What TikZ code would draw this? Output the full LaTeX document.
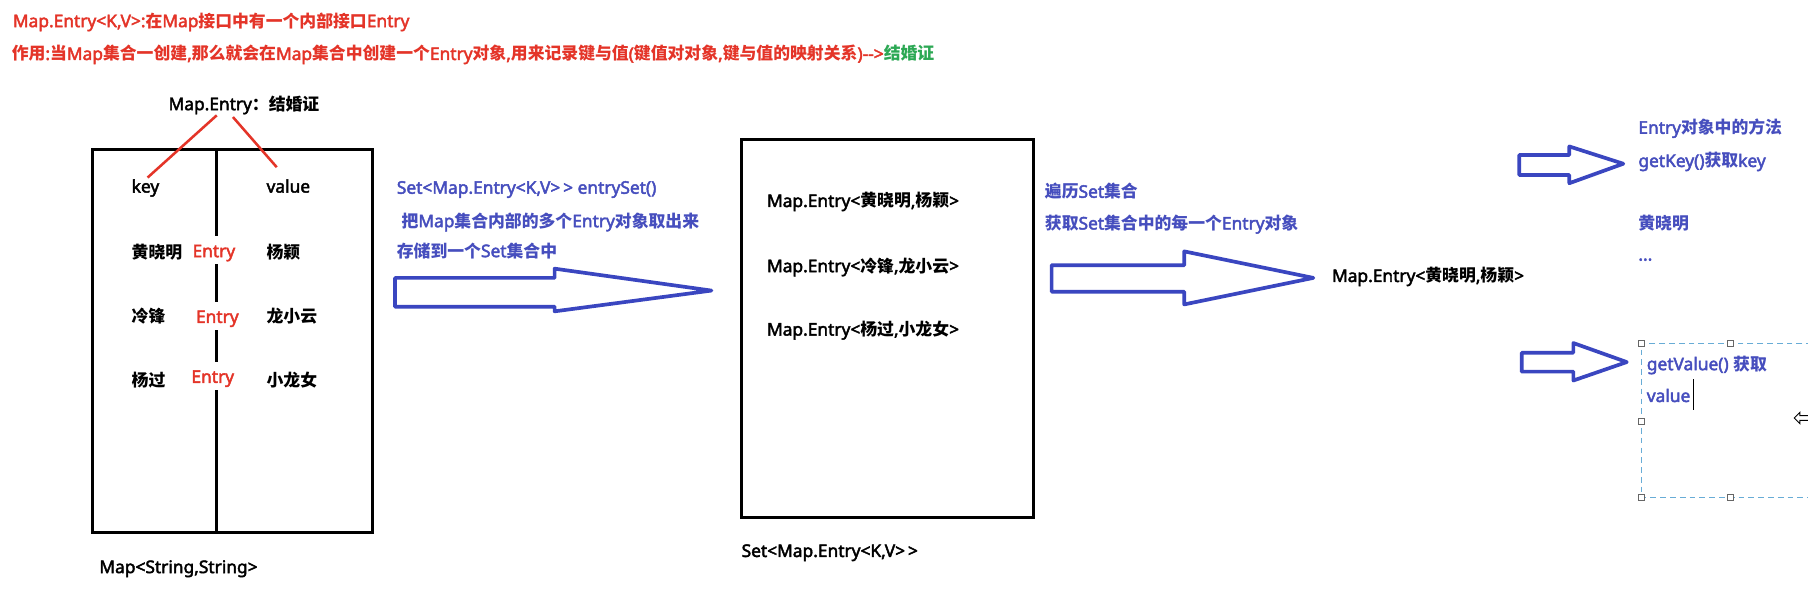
\documentclass[tikz,border=0pt]{standalone}
\usepackage{fontspec}
\setmainfont{Noto Sans}[BoldFont={Noto Sans}, BoldFeatures={FakeBold=2.5}]
\newfontfamily\latinfam{Noto Sans}[BoldFont={Noto Sans}, BoldFeatures={FakeBold=2.5}, Scale=1.03]
\newfontfamily\cjkfam{Noto Sans CJK SC}
\newXeTeXintercharclass\cjkcls
\newcount\cjkcnt
\cjkcnt="3000
\loop\XeTeXcharclass\cjkcnt=\cjkcls\ifnum\cjkcnt<"9FFF\advance\cjkcnt by 1\repeat
\cjkcnt="FF00
\loop\XeTeXcharclass\cjkcnt=\cjkcls\ifnum\cjkcnt<"FFEF\advance\cjkcnt by 1\repeat
\XeTeXinterchartoks 0 \cjkcls = {\cjkfam}
\XeTeXinterchartoks 4095 \cjkcls = {\cjkfam}
\XeTeXinterchartoks \cjkcls 0 = {\latinfam}
\XeTeXinterchartoks 4095 0 = {\latinfam}
\XeTeXinterchartokenstate=1
\definecolor{tred}{RGB}{228,52,40}
\definecolor{tblue}{RGB}{70,78,190}
\definecolor{ablue}{RGB}{58,70,192}
\definecolor{grn}{RGB}{44,168,84}
\definecolor{dashc}{RGB}{104,172,214}
\tikzset{
  txt/.style={inner sep=0pt, anchor=west, text height=12pt, text depth=0pt,
    font=\fontsize{14.6}{18}\selectfont\bfseries},
  boxline/.style={draw=black, line width=2.6pt},
  entrylbl/.style={txt, anchor=center, fill=white, text=tred, inner xsep=1.5pt, inner ysep=6pt},
  bigarrow/.style={draw=ablue, line width=3.2pt, line join=round, fill=white},
  handle/.style={draw=gray!80!black, fill=white, line width=0.8pt, minimum size=5pt, inner sep=0pt},
  redline/.style={draw=tred, line width=2.2pt},
}
\begin{document}
\begin{tikzpicture}[x=1pt,y=-1pt]
\useasboundingbox[fill=white] (0,0) rectangle (1568,512);

% titles
\node[txt, text=tred] (t1) at (11,17.5) {Map.Entry<K,V>:在Map接口中有一个内部接口Entry};
\node[txt, text=tred] (t2) at (10,46) {作用:当Map集合一创建,那么就会在Map集合中创建一个Entry对象,用来记录键与值(键值对对象,键与值的映射关系)-{}-{}>\textcolor{grn}{结婚证}};

% left map box
\node[boxline, minimum width=242.4pt, minimum height=332pt, inner sep=0pt] (mapbox) at (201.8,296) {};
\draw[boxline] (188,130) -- (188,462);
\node[txt] (me) at (146,89.5) {Map.Entry：结婚证};
\node[txt] (key) at (114,161) {key};
\node[txt] (val) at (231,161) {value};
\node[txt] (k1) at (114,218) {黄晓明};
\node[txt] (v1) at (231,218) {杨颖};
\node[txt] (k2) at (114,274) {冷锋};
\node[txt] (v2) at (231,274) {龙小云};
\node[txt] (k3) at (114,329.5) {杨过};
\node[txt] (v3) at (231,329.5) {小龙女};
\node[entrylbl] (e1) at (185.5,217) {Entry};
\node[entrylbl] (e2) at (188.5,274) {Entry};
\node[entrylbl] (e3) at (184.5,326) {Entry};
\coordinate (ra) at (188,100);
\coordinate (rb) at (128,154);
\coordinate (rc) at (202,101.5);
\coordinate (rd) at (240,145);
\draw[redline] (ra) -- (rb);
\draw[redline] (rc) -- (rd);
\node[txt] (maplbl) at (86,491) {Map<String,String>};

% first blue text + arrow
\node[txt, text=tblue] (b1) at (344,162) {Set<Map.Entry<K,V>\,> entrySet()};
\node[txt, text=tblue] (b2) at (348,191) {把Map集合内部的多个Entry对象取出来};
\node[txt, text=tblue] (b3) at (344,217) {存储到一个Set集合中};
\draw[bigarrow] (342.6,241) -- (481,241) -- (481,233) -- (617,252) -- (481,270) -- (481,266) -- (342.6,266) -- cycle;

% set box
\node[boxline, minimum width=253pt, minimum height=328pt, inner sep=0pt] (setbox) at (769.5,285) {};
\node[txt] (s1) at (665,173.5) {Map.Entry<黄晓明,杨颖>};
\node[txt] (s2) at (665,230) {Map.Entry<冷锋,龙小云>};
\node[txt] (s3) at (665,285) {Map.Entry<杨过,小龙女>};
\node[txt] (setlbl) at (643,477) {Set<Map.Entry<K,V>\,>};

% second blue text + arrow
\node[txt, text=tblue] (c1) at (906,165.5) {遍历Set集合};
\node[txt, text=tblue] (c2) at (906,193) {获取Set集合中的每一个Entry对象};
\draw[bigarrow] (912,230) -- (1027,230) -- (1027,218) -- (1139,241) -- (1027,264) -- (1027,253) -- (912,253) -- cycle;
\node[txt] (one) at (1155,238.5) {Map.Entry<黄晓明,杨颖>};

% right side
\node[txt, text=tblue] (d1) at (1420.7,110) {Entry对象中的方法};
\node[txt, text=tblue] (d2) at (1420.7,138.8) {getKey()获取key};
\node[txt, text=tblue] (d3) at (1420.7,193) {黄晓明};
\node[inner sep=0pt, anchor=base west, text=tblue, font=\fontsize{14.6}{18}\selectfont\bfseries] (d4) at (1420.7,226) {...};
\draw[bigarrow] (1317.6,134.4) -- (1361,134.4) -- (1361,127) -- (1407.8,142) -- (1361,158.9) -- (1361,151.8) -- (1317.6,151.8) -- cycle;
\draw[bigarrow] (1319.7,305.9) -- (1364.5,305.9) -- (1364.5,297.5) -- (1410.8,314) -- (1364.5,330) -- (1364.5,322.3) -- (1319.7,322.3) -- cycle;

% dashed text box
\draw[dashc, line width=1.1pt, dash pattern=on 5pt off 3.5pt] (1580,297.8) -- (1423.8,297.8) -- (1423.8,431.6) -- (1580,431.6);
\node[handle] (h1) at (1423.8,297.8) {};
\node[handle] (h2) at (1500.5,297.8) {};
\node[handle] (h3) at (1423.8,365.7) {};
\node[handle] (h4) at (1423.8,431.6) {};
\node[handle] (h5) at (1500.5,431.6) {};
\node[txt, text=tblue] (g1) at (1428,315) {getValue() 获取};
\node[txt, text=tblue] (g2) at (1428,342.6) {value};
\draw[black, line width=1pt] (1469,329) -- (1469,356);
\draw[black, line width=0.8pt, fill=white] (1556,362.5) -- (1561,357.5) -- (1561,360.5) -- (1570,360.5) -- (1570,364.5) -- (1561,364.5) -- (1561,367.5) -- cycle;
\end{tikzpicture}
\end{document}
